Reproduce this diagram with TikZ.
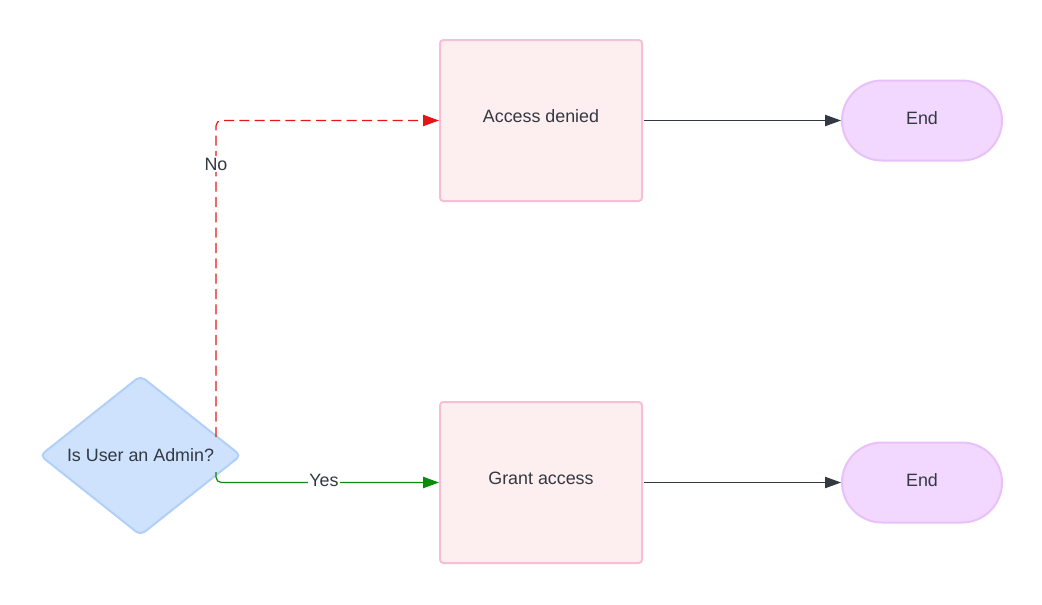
\documentclass[tikz,border=0pt]{standalone}
\usepackage{fontspec}
\setmainfont{Liberation Sans}
\usetikzlibrary{shapes.geometric,arrows.meta}
\definecolor{txt}{RGB}{51,56,66}
\definecolor{dfill}{RGB}{206,226,254}
\definecolor{ddraw}{RGB}{176,208,250}
\definecolor{bfill}{RGB}{253,239,240}
\definecolor{bdraw}{RGB}{248,190,216}
\definecolor{efill}{RGB}{242,216,254}
\definecolor{edraw}{RGB}{232,192,250}
\definecolor{nored}{RGB}{230,22,22}
\definecolor{yesgreen}{RGB}{10,140,10}
\definecolor{dark}{RGB}{51,56,66}
\tikzset{
  lbl/.style={text=txt,font=\fontsize{13.4}{16}\selectfont},
  decision/.style={diamond,draw=ddraw,fill=dfill,line width=1.5pt,rounded corners=4pt,minimum width=151pt,minimum height=120pt,inner sep=0pt,lbl},
  procbox/.style={rectangle,draw=bdraw,fill=bfill,line width=1.5pt,rounded corners=2.5pt,minimum width=151.5pt,minimum height=120.75pt,inner sep=0pt,lbl},
  term/.style={rectangle,draw=edraw,fill=efill,line width=1.5pt,rounded corners=30pt,minimum width=120pt,minimum height=60pt,inner sep=0pt,lbl},
  tip/.style={-{Triangle[length=12pt,width=8.5pt]}},
  flow/.style={tip,draw=dark,line width=0.8pt},
  noedge/.style={tip,draw=nored,line width=0.9pt,dash pattern=on 7.5pt off 4pt,rounded corners=4pt},
  yesedge/.style={tip,draw=yesgreen,line width=0.9pt,rounded corners=4pt},
  elabel/.style={lbl,fill=white,inner sep=1pt}
}
\begin{document}
\begin{tikzpicture}[x=0.75pt,y=-0.75pt]
\useasboundingbox (0,0) rectangle (1042,604);
\node[decision] (dec) at (140.5,455.5) {Is User an Admin?};
\node[procbox] (ad) at (541,120.5) {};
\node[lbl] (adt) at (541,116) {Access denied};
\node[procbox] (ga) at (541,482.5) {};
\node[lbl] (gat) at (541,478) {Grant access};
\node[term] (e1) at (922,120.5) {};
\node[lbl] (e1t) at (922,118) {End};
\node[term] (e2) at (922,482.5) {};
\node[lbl] (e2t) at (922,480) {End};
\coordinate (noS) at (216,437);
\coordinate (yesS) at (216,472);
\coordinate (adR) at (644,120.5);
\coordinate (gaR) at (644,482.5);
\draw[noedge] (noS) |- (ad.west);
\draw[yesedge] (yesS) |- (ga.west);
\draw[flow] (adR) -- (e1.west);
\draw[flow] (gaR) -- (e2.west);
\node[elabel] (nol) at (216,164) {No};
\node[elabel] (yesl) at (324,480) {Yes};
\end{tikzpicture}
\end{document}
